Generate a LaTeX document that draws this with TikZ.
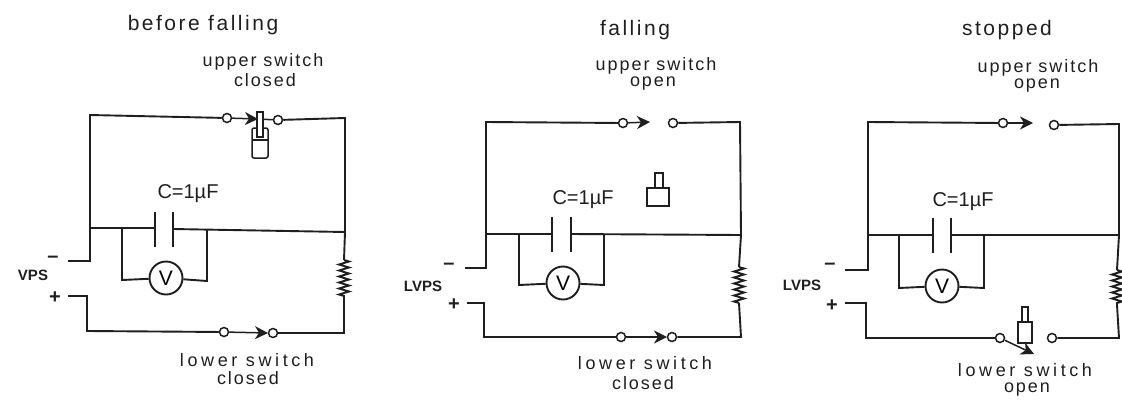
\documentclass[tikz,border=0pt]{standalone}
\usepackage{fontspec}
\setmainfont{Liberation Sans}
\newfontfamily\handttl[LetterSpace=12]{Liberation Sans}
\newfontfamily\handlbl[LetterSpace=11]{Liberation Sans}
\newfontfamily\handlow[LetterSpace=20]{Liberation Sans}
\usetikzlibrary{arrows.meta,decorations.pathmorphing}
\tikzset{
  wire/.style={draw=black!88,line width=1.9pt,line join=miter},
  thinwire/.style={draw=black!88,line width=1.5pt},
  term/.style={circle,draw=black!88,line width=1.5pt,fill=white,inner sep=0pt,minimum size=9pt},
  meter/.style={circle,draw=black!88,line width=1.9pt,fill=white,inner sep=0pt,minimum size=33pt,font=\fontsize{21}{21}\selectfont},
  contact/.style={thinwire,-{Stealth[length=13pt,width=13pt,inset=4pt]}},
  res/.style={wire,decorate,decoration={zigzag,segment length=6pt,amplitude=5pt}},
  ttl/.style={text=black!88,font=\handttl\fontsize{21}{21}\selectfont},
  lbl/.style={text=black!88,font=\handlbl\fontsize{18}{18}\selectfont},
  lowlbl/.style={text=black!88,font=\handlow\fontsize{18}{18}\selectfont},
  cval/.style={text=black!88,font=\fontsize{20}{20}\selectfont},
  psu/.style={text=black!88,font=\bfseries\fontsize{15}{15}\selectfont},
  sgn/.style={text=black!88,font=\bfseries\fontsize{20}{20}\selectfont},
  mass/.style={thinwire,fill=white}
}
\begin{document}
\begin{tikzpicture}[x=1pt,y=-1pt]
\path[use as bounding box,fill=white] (0,0) rectangle (1122,400);

% ---------- panel 1
\node[ttl] (atitle) at (203,25) {before falling};
\node[lbl] (aup) at (263,62) {upper switch};
\node[lbl] (aupst) at (265,80) {closed};
\node[lowlbl] (alo) at (247,360) {lower switch};
\node[lbl] (alost) at (248,378) {closed};
\node[cval] (acap) at (188,194) {C=1µF};
\node[psu] (aps) at (33,275) {VPS};
\node[sgn] (aminus) at (53,259) {–};
\node[sgn] (aplus) at (55,298) {+};
\coordinate (atl) at (90,115); \coordinate (atr) at (345,118);
\coordinate (aml) at (90,228); \coordinate (amr) at (345,232);
\coordinate (amin) at (68,261);
\coordinate (apl) at (68,296); \coordinate (aplc) at (87,296);
\coordinate (abl) at (87,331); \coordinate (abr) at (344,333);
\coordinate (ar1) at (344,260); \coordinate (ar2) at (344,298);
\coordinate (ap1t) at (155,212); \coordinate (ap1b) at (155,247);
\coordinate (ap2t) at (173,212); \coordinate (ap2b) at (173,247);
\coordinate (ap1) at (155,228); \coordinate (ap2) at (173,229);
\coordinate (avl) at (122,228); \coordinate (avr) at (207,229);
\coordinate (avbl) at (122,280); \coordinate (avbr) at (207,281);
\node[term] (as1) at (227,118) {};
\node[term] (as2) at (278,120) {};
\node[term] (as3) at (224,332) {};
\node[term] (as4) at (273,333) {};
\node[meter] (av) at (166,278) {V};
\coordinate (aua) at (258,119); \coordinate (ala) at (268,333);
\draw[wire] (as1) -- (atl) -- (amin-|atl) -- (amin);
\draw[wire] (as2) -- (atr) -- (amr);
\draw[wire] (aml) -- (ap1); \draw[wire] (ap2) -- (amr);
\draw[wire] (apl) -- (aplc) -- (abl) -- (as3);
\draw[wire] (as4) -- (abr) -- (ar2);
\draw[wire] (amr) -- (ar1);
\draw[res] (ar1) -- (ar2);
\draw[wire] (ap1t) -- (ap1b); \draw[wire] (ap2t) -- (ap2b);
\draw[wire] (avl) -- (avbl) -- (av);
\draw[wire] (avr) -- (avbr) -- (av);
\draw[contact] (as1) -- (aua);
\draw[contact] (as3) -- (ala);
\draw[thinwire] (as2) -- (aua);
\draw[mass,rounded corners=2pt] (252,128) rectangle (268,158);
\draw[thinwire] (252,140) -- (268,140);
\draw[mass] (257,112) rectangle (263,137);

% ---------- panel 2
\node[ttl] (btitle) at (635,30) {falling};
\node[lbl] (bup) at (656,66) {upper switch};
\node[lbl] (bupst) at (653,84) {open};
\node[lowlbl] (blo) at (645,363) {lower switch};
\node[lbl] (blost) at (643,383) {closed};
\node[cval] (bcap) at (583,200) {C=1µF};
\node[psu] (bps) at (423,286) {LVPS};
\node[sgn] (bminus) at (449,266) {–};
\node[sgn] (bplus) at (454,305) {+};
\coordinate (btl) at (486,122); \coordinate (btr) at (740,122);
\coordinate (bml) at (486,234); \coordinate (bmr) at (741,235);
\coordinate (bmin) at (465,268);
\coordinate (bpl) at (467,303); \coordinate (bplc) at (484,303);
\coordinate (bbl) at (484,337); \coordinate (bbr) at (741,337);
\coordinate (br1) at (739,267); \coordinate (br2) at (739,303);
\coordinate (bp1t) at (552,217); \coordinate (bp1b) at (552,252);
\coordinate (bp2t) at (571,217); \coordinate (bp2b) at (571,252);
\coordinate (bp1) at (552,234); \coordinate (bp2) at (571,234);
\coordinate (bvl) at (519,234); \coordinate (bvr) at (604,234);
\coordinate (bvbl) at (519,285); \coordinate (bvbr) at (604,285);
\node[term] (bs1) at (623,123) {};
\node[term] (bs2) at (673,123) {};
\node[term] (bs3) at (621,337) {};
\node[term] (bs4) at (672,337) {};
\node[meter] (bv) at (563,283) {V};
\coordinate (bua) at (650,122); \coordinate (bla) at (667,337);
\draw[wire] (bs1) -- (btl) -- (bmin-|btl) -- (bmin);
\draw[wire] (bs2) -- (btr) -- (bmr);
\draw[wire] (bml) -- (bp1); \draw[wire] (bp2) -- (bmr);
\draw[wire] (bpl) -- (bplc) -- (bbl) -- (bs3);
\draw[wire] (bs4) -- (bbr) -- (br2);
\draw[wire] (bmr) -- (br1);
\draw[res] (br1) -- (br2);
\draw[wire] (bp1t) -- (bp1b); \draw[wire] (bp2t) -- (bp2b);
\draw[wire] (bvl) -- (bvbl) -- (bv);
\draw[wire] (bvr) -- (bvbr) -- (bv);
\draw[contact] (bs1) -- (bua);
\draw[contact] (bs3) -- (bla);
\draw[mass] (647,188) rectangle (669,206);
\draw[mass] (655,173) rectangle (663,188);

% ---------- panel 3
\node[ttl] (ctitle) at (1007,30) {stopped};
\node[lbl] (cup) at (1038,68) {upper switch};
\node[lbl] (cupst) at (1037,86) {open};
\node[lowlbl] (clo) at (1025,370) {lower switch};
\node[lbl] (clost) at (1027,390) {open};
\node[cval] (ccap) at (963,202) {C=1µF};
\node[psu] (cps) at (802,285) {LVPS};
\node[sgn] (cminus) at (830,266) {–};
\node[sgn] (cplus) at (832,306) {+};
\coordinate (ctl) at (868,122); \coordinate (ctr) at (1119,124);
\coordinate (cml) at (868,235); \coordinate (cmr) at (1119,235);
\coordinate (cmin) at (845,270);
\coordinate (cpl) at (845,303); \coordinate (cplc) at (866,303);
\coordinate (cbl) at (866,338); \coordinate (cbr) at (1119,338);
\coordinate (cr1) at (1117,270); \coordinate (cr2) at (1117,305);
\coordinate (cp1t) at (933,218); \coordinate (cp1b) at (933,253);
\coordinate (cp2t) at (951,218); \coordinate (cp2b) at (951,253);
\coordinate (cp1) at (933,235); \coordinate (cp2) at (951,235);
\coordinate (cvl) at (899,235); \coordinate (cvr) at (984,235);
\coordinate (cvbl) at (899,288); \coordinate (cvbr) at (984,288);
\node[term] (cs1) at (1003,123) {};
\node[term] (cs2) at (1054,125) {};
\node[term] (cs3) at (1000,338) {};
\node[term] (cs4) at (1052,338) {};
\node[meter] (cv) at (942,286) {V};
\coordinate (cua) at (1033,123); \coordinate (cla) at (1034,354);
\draw[wire] (cs1) -- (ctl) -- (cmin-|ctl) -- (cmin);
\draw[wire] (cs2) -- (ctr) -- (cmr);
\draw[wire] (cml) -- (cp1); \draw[wire] (cp2) -- (cmr);
\draw[wire] (cpl) -- (cplc) -- (cbl) -- (cs3);
\draw[wire] (cs4) -- (cbr) -- (cr2);
\draw[wire] (cmr) -- (cr1);
\draw[res] (cr1) -- (cr2);
\draw[wire] (cp1t) -- (cp1b); \draw[wire] (cp2t) -- (cp2b);
\draw[wire] (cvl) -- (cvbl) -- (cv);
\draw[wire] (cvr) -- (cvbr) -- (cv);
\draw[contact] (cs1) -- (cua);
\draw[mass] (1018,322) rectangle (1032,343);
\draw[mass] (1022,307) rectangle (1028,322);
\draw[contact] (cs3) -- (cla);
\end{tikzpicture}
\end{document}
